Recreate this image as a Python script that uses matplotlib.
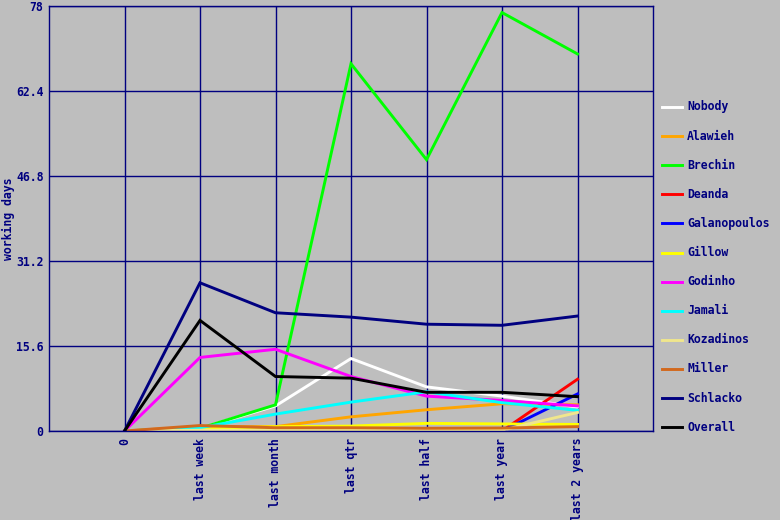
import matplotlib
matplotlib.use('Agg')
import matplotlib.pyplot as plt
from matplotlib.lines import Line2D

# periods along the x axis
periods = ['0', 'last week', 'last month', 'last qtr', 'last half', 'last year', 'last 2 years']
yticks = [0, 15.6, 31.2, 46.8, 62.4, 78]

# working days per person
nobody       = [0, 0.5, 4.6, 13.3, 8.1, 6.4, 4.4]
alawieh      = [0, 0.8, 0.8, 2.6, 3.9, 5.0, 4.8]
brechin      = [0, 0.5, 4.8, 67.4, 49.8, 76.8, 69.2]
deanda       = [0, 0, 0, 0, 0, 0, 9.5]
galanopoulos = [0, 0, 0, 0, 0, 0, 6.8]
gillow       = [0, 0.3, 0.8, 0.9, 1.4, 1.3, 1.2]
godinho      = [0, 13.5, 15.0, 10.0, 6.4, 5.6, 4.6]
jamali       = [0, 0.6, 3.1, 5.3, 7.2, 5.2, 3.8]
kozadinos    = [0, 0.15, 0.15, 0.15, 0.15, 0.15, 3.4]
miller       = [0, 1.0, 0.6, 0.6, 0.5, 0.55, 0.8]
schlacko     = [0, 27.2, 21.7, 20.9, 19.6, 19.4, 21.1]
overall      = [0, 20.3, 10.0, 9.7, 7.1, 7.1, 6.3]

names = ['Nobody', 'Alawieh', 'Brechin', 'Deanda', 'Galanopoulos', 'Gillow',
         'Godinho', 'Jamali', 'Kozadinos', 'Miller', 'Schlacko', 'Overall']
series = [nobody, alawieh, brechin, deanda, galanopoulos, gillow,
          godinho, jamali, kozadinos, miller, schlacko, overall]
colors = ['#ffffff', '#ffa500', '#00ff00', '#ff0000', '#0000ff', '#ffff00',
          '#ff00ff', '#00ffff', '#f0e68c', '#d2691e', '#000080', '#000000']

bg   = '#bebebe'
navy = '#000080'
fnt  = dict(family='DejaVu Sans Mono', weight='bold', size=8.3, color=navy)

fig = plt.figure(figsize=(7.8, 5.2), dpi=100, facecolor=bg)
ax = fig.add_axes([49/780, 1-431/520, (653-49)/780, (431-6)/520])
ax.set_facecolor(bg)

x = list(range(len(periods)))
for name, vals, c in zip(names, series, colors):
  ax.plot(x, vals, color=c, lw=2.1, label=name, solid_joinstyle='miter')

ax.set_xlim(-1, 7)
ax.set_ylim(0, 78)
ax.set_xticks(x)
ax.set_xticklabels(periods, rotation=90, va='top', ha='center', **fnt)
ax.set_yticks(yticks)
ax.set_yticklabels(['0', '15.6', '31.2', '46.8', '62.4', '78'], **fnt)
ax.tick_params(length=0, pad=4)
ax.tick_params(axis='x', pad=5)
ax.grid(True, color=navy, lw=1)
ax.set_axisbelow(True)
for s in ax.spines.values():
  s.set_color(navy)
  s.set_linewidth(1)
ax.set_ylabel('working days', labelpad=1, **fnt)

# legend drawn by hand on the right
for i, (name, c) in enumerate(zip(names, colors)):
  yy = 1 - (107 + i*29.1)/520
  fig.add_artist(Line2D([662/780, 682/780], [yy, yy], color=c, lw=2.1,
                        transform=fig.transFigure))
  fig.text(687/780, yy, name, va='center', ha='left', **fnt)

plt.savefig('out.png', dpi=100, facecolor=bg)
